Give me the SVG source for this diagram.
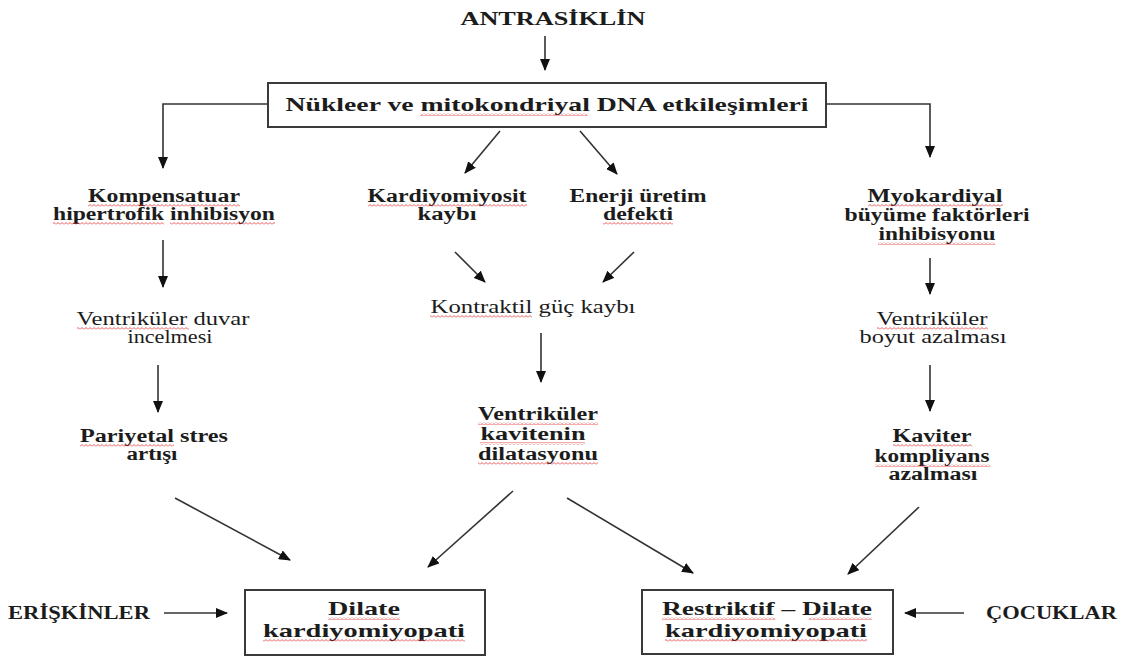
<svg xmlns="http://www.w3.org/2000/svg" width="1131" height="662" viewBox="0 0 1131 662">
<style>
text{font-family:"Liberation Serif","Times New Roman",serif;fill:#1c1c1c;text-anchor:middle}
.b{font-weight:bold;font-size:18px}
.r{font-weight:normal;font-size:18px}
.bx{font-weight:bold;font-size:19px}
.st{text-anchor:start}
.box{fill:#fff;stroke:#3a3a3a;stroke-width:2}
.c{fill:none;stroke:#333;stroke-width:1.6}
.sq{fill:url(#sq)}
</style>
<defs>
<marker id="ah" markerUnits="userSpaceOnUse" markerWidth="12" markerHeight="10" refX="11" refY="5" orient="auto">
<path d="M0,0 L12,5 L0,10 z" fill="#111"/>
</marker>
<pattern id="sq" patternUnits="userSpaceOnUse" width="4" height="3">
<path d="M0,2.5 L2,0.5 L4,2.5" fill="none" stroke="#e03030" stroke-width="0.8"/>
</pattern>
</defs>
<rect width="1131" height="662" fill="#fff"/>

<g id="connectors">
<line class="c" x1="545" y1="36" x2="545" y2="70" marker-end="url(#ah)"/>
<polyline class="c" points="268,104 163,104 163,168" marker-end="url(#ah)"/>
<polyline class="c" points="826,104 930,104 930,157" marker-end="url(#ah)"/>
<line class="c" x1="500" y1="131" x2="465" y2="173" marker-end="url(#ah)"/>
<line class="c" x1="580" y1="131" x2="617" y2="174" marker-end="url(#ah)"/>
<line class="c" x1="163" y1="240" x2="163" y2="287" marker-end="url(#ah)"/>
<line class="c" x1="455" y1="252" x2="485" y2="282" marker-end="url(#ah)"/>
<line class="c" x1="634" y1="252" x2="603" y2="282" marker-end="url(#ah)"/>
<line class="c" x1="930" y1="258" x2="930" y2="294" marker-end="url(#ah)"/>
<line class="c" x1="158" y1="365" x2="158" y2="412" marker-end="url(#ah)"/>
<line class="c" x1="541" y1="333" x2="541" y2="382" marker-end="url(#ah)"/>
<line class="c" x1="930" y1="365" x2="930" y2="411" marker-end="url(#ah)"/>
<line class="c" x1="175" y1="498" x2="290" y2="560" marker-end="url(#ah)"/>
<line class="c" x1="513" y1="491" x2="428" y2="567" marker-end="url(#ah)"/>
<line class="c" x1="567" y1="498" x2="693" y2="573" marker-end="url(#ah)"/>
<line class="c" x1="919" y1="507" x2="848" y2="574" marker-end="url(#ah)"/>
<line class="c" x1="164" y1="613" x2="227" y2="613" marker-end="url(#ah)"/>
<line class="c" x1="964" y1="613" x2="905" y2="613" marker-end="url(#ah)"/>
</g>

<g id="antrasiklin">
<text class="bx" x="553" y="25" textLength="185" lengthAdjust="spacingAndGlyphs">ANTRASİKLİN</text>
</g>

<g id="dna">
<rect class="box" x="268" y="83" width="558" height="44"/>
<text class="bx" x="547" y="111" textLength="523" lengthAdjust="spacingAndGlyphs">Nükleer ve mitokondriyal DNA etkileşimleri</text>
<rect class="sq" x="420" y="113" width="168" height="3"/>
</g>

<g id="kompensatuar">
<text class="b" x="164" y="202" textLength="152" lengthAdjust="spacingAndGlyphs">Kompensatuar</text>
<text class="b" x="164" y="220" textLength="222" lengthAdjust="spacingAndGlyphs">hipertrofik inhibisyon</text>
<rect class="sq" x="88" y="204" width="152" height="3"/>
<rect class="sq" x="53" y="222" width="111" height="3"/>
<rect class="sq" x="170" y="222" width="105" height="3"/>
</g>

<g id="kardiyomiyosit">
<text class="b" x="447" y="202" textLength="159" lengthAdjust="spacingAndGlyphs">Kardiyomiyosit</text>
<text class="b" x="447" y="220" textLength="59" lengthAdjust="spacingAndGlyphs">kaybı</text>
<rect class="sq" x="368" y="204" width="159" height="3"/>
</g>

<g id="enerji">
<text class="b" x="638" y="202" textLength="137" lengthAdjust="spacingAndGlyphs">Enerji üretim</text>
<text class="b" x="638" y="220" textLength="70" lengthAdjust="spacingAndGlyphs">defekti</text>
<rect class="sq" x="603" y="222" width="70" height="3"/>
</g>

<g id="myokardiyal">
<text class="b" x="935" y="202" textLength="135" lengthAdjust="spacingAndGlyphs">Myokardiyal</text>
<text class="b" x="937" y="221" textLength="185" lengthAdjust="spacingAndGlyphs">büyüme faktörleri</text>
<text class="b" x="937" y="240" textLength="117" lengthAdjust="spacingAndGlyphs">inhibisyonu</text>
<rect class="sq" x="868" y="204" width="135" height="3"/>
<rect class="sq" x="878" y="242" width="117" height="3"/>
</g>

<g id="duvar">
<text class="r" x="163" y="325" textLength="173" lengthAdjust="spacingAndGlyphs">Ventriküler duvar</text>
<text class="r" x="170" y="343" textLength="85" lengthAdjust="spacingAndGlyphs">incelmesi</text>
<rect class="sq" x="77" y="327" width="112" height="3"/>
</g>

<g id="kontraktil">
<text class="r" x="533" y="313" textLength="205" lengthAdjust="spacingAndGlyphs">Kontraktil güç kaybı</text>
<rect class="sq" x="430" y="315" width="102" height="3"/>
</g>

<g id="boyut">
<text class="r" x="932" y="325" textLength="111" lengthAdjust="spacingAndGlyphs">Ventriküler</text>
<text class="r" x="933" y="343" textLength="147" lengthAdjust="spacingAndGlyphs">boyut azalması</text>
<rect class="sq" x="877" y="327" width="111" height="3"/>
</g>

<g id="pariyetal">
<text class="b" x="154" y="442" textLength="148" lengthAdjust="spacingAndGlyphs">Pariyetal stres</text>
<text class="b" x="152" y="460" textLength="51" lengthAdjust="spacingAndGlyphs">artışı</text>
<rect class="sq" x="80" y="444" width="94" height="3"/>
</g>

<g id="kavite">
<text class="b" x="538" y="420" textLength="120" lengthAdjust="spacingAndGlyphs">Ventriküler</text>
<text class="b" x="533" y="440" textLength="105" lengthAdjust="spacingAndGlyphs">kavitenin</text>
<text class="b" x="538" y="460" textLength="120" lengthAdjust="spacingAndGlyphs">dilatasyonu</text>
<rect class="sq" x="478" y="422" width="120" height="3"/>
<rect class="sq" x="480" y="442" width="105" height="3"/>
<rect class="sq" x="478" y="462" width="120" height="3"/>
</g>

<g id="kaviter">
<text class="b" x="932" y="442" textLength="79" lengthAdjust="spacingAndGlyphs">Kaviter</text>
<text class="b" x="932" y="462" textLength="115" lengthAdjust="spacingAndGlyphs">kompliyans</text>
<text class="b" x="933" y="480" textLength="89" lengthAdjust="spacingAndGlyphs">azalması</text>
<rect class="sq" x="893" y="444" width="79" height="3"/>
<rect class="sq" x="875" y="464" width="115" height="3"/>
</g>

<g id="eriskinler">
<text class="b st" x="8" y="619" textLength="142" lengthAdjust="spacingAndGlyphs">ERİŞKİNLER</text>
</g>

<g id="dilate">
<rect class="box" x="245" y="590" width="240" height="65"/>
<text class="bx" x="364" y="615" textLength="72" lengthAdjust="spacingAndGlyphs">Dilate</text>
<text class="bx" x="364" y="637" textLength="202" lengthAdjust="spacingAndGlyphs">kardiyomiyopati</text>
<rect class="sq" x="328" y="617" width="72" height="3"/>
<rect class="sq" x="263" y="639" width="202" height="3"/>
</g>

<g id="restriktif">
<rect class="box" x="642" y="590" width="251" height="64"/>
<text class="bx" x="767" y="615" textLength="210" lengthAdjust="spacingAndGlyphs">Restriktif – Dilate</text>
<text class="bx" x="766" y="637" textLength="202" lengthAdjust="spacingAndGlyphs">kardiyomiyopati</text>
<rect class="sq" x="662" y="617" width="113" height="3"/>
<rect class="sq" x="809" y="617" width="63" height="3"/>
<rect class="sq" x="665" y="639" width="202" height="3"/>
</g>

<g id="cocuklar">
<text class="b st" x="986" y="619" textLength="131" lengthAdjust="spacingAndGlyphs">ÇOCUKLAR</text>
</g>
</svg>
